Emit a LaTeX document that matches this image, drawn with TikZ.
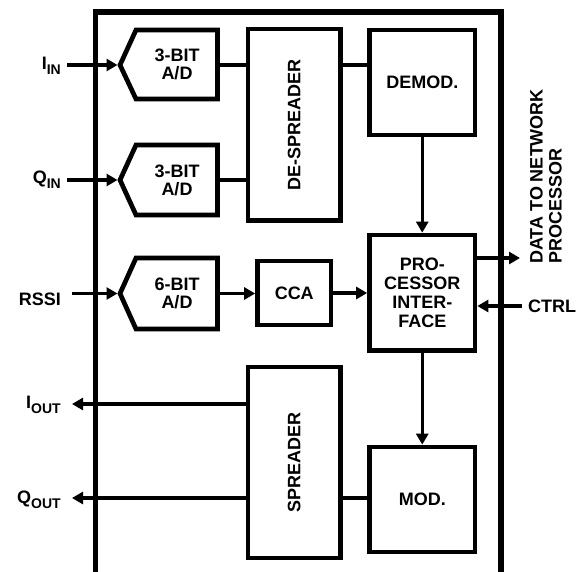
\documentclass[tikz,border=0pt]{standalone}
\usepackage{fontspec}
\setmainfont{Liberation Sans}
\usetikzlibrary{arrows.meta}
\tikzset{
  boxline/.style={line width=4.7bp, line join=miter},
  blk/.style={draw, boxline, rectangle, inner sep=0pt, align=center, font=\lbl},
  conn/.style={line width=3.5bp},
  arr/.style={conn, -{Triangle[length=11bp,width=12bp]}},
  lab/.style={inner sep=0pt, font=\lbl},
}
\newcommand{\lbl}{\fontsize{18bp}{19bp}\selectfont\bfseries}
\newcommand{\subt}[1]{\raisebox{-5bp}{\fontsize{14bp}{14bp}\selectfont #1}}
\begin{document}
\begin{tikzpicture}[x=1bp,y=-1bp]
\useasboundingbox (0,0) rectangle (581,572);
% outer frame
\draw[line width=5.5bp, line join=miter] (95.5,572) -- (95.5,12) -- (501,12) -- (501,572);
% ADC shapes
\draw[boxline] (120,65) -- (136,30) -- (217.5,30) -- (217.5,99) -- (136,99) -- cycle;
\draw[boxline] (120,180) -- (136,145) -- (217.5,145) -- (217.5,215) -- (136,215) -- cycle;
\draw[boxline] (120,293.5) -- (136,258) -- (217.5,258) -- (217.5,329) -- (136,329) -- cycle;
\coordinate (a1w) at (117.5,65);   \coordinate (a1e) at (219.8,65);
\coordinate (a2w) at (117.5,180);  \coordinate (a2e) at (219.8,180);
\coordinate (a3w) at (117.5,293.5); \coordinate (a3e) at (219.8,293.5);
\node[lab, align=center, font=\fontsize{18bp}{18bp}\selectfont\bfseries] (adc1) at (177,64.5) {3-BIT\\A/D};
\node[lab, align=center, font=\fontsize{18bp}{18bp}\selectfont\bfseries] (adc2) at (177,180) {3-BIT\\A/D};
\node[lab, align=center, font=\fontsize{18bp}{18bp}\selectfont\bfseries] (adc3) at (177,293.5) {6-BIT\\A/D};
% blocks
\node[blk, minimum width=92.5bp, minimum height=191.5bp] (desp) at (294.25,124.75) {\rotatebox{90}{DE-SPREADER}};
\node[blk, minimum width=105.5bp, minimum height=105bp] (demod) at (422.25,82.5) {DEMOD.};
\node[blk, minimum width=105.5bp, minimum height=115.5bp] (proc) at (422.25,292.75) {PRO-\\CESSOR\\INTER-\\FACE};
\node[blk, minimum width=73.5bp, minimum height=64bp] (cca) at (294.25,293) {CCA};
\node[blk, minimum width=92.5bp, minimum height=191bp] (spr) at (294.25,462.5) {\rotatebox{90}{SPREADER}};
\node[blk, minimum width=105.5bp, minimum height=105bp] (mod) at (422.25,499.5) {MOD.};
% external labels
\node[lab, anchor=base east] (iin) at (61,70) {I\subt{IN}};
\node[lab, anchor=base east] (qin) at (61,183) {Q\subt{IN}};
\node[lab, anchor=base east] (rssi) at (61,305) {RSSI};
\node[lab, anchor=base east] (iout) at (61,408.5) {I\subt{OUT}};
\node[lab, anchor=base east] (qout) at (61,503) {Q\subt{OUT}};
\node[lab, anchor=base west] (ctrl) at (528,312) {CTRL};
\node[lab, rotate=90, align=left] (data) at (546,176.5) {DATA TO NETWORK\\PROCESSOR};
% connector end points
\coordinate (iinS) at (67,65);
\coordinate (qinS) at (67,180);
\coordinate (rssiS) at (72,293.5);
\coordinate (ioutE) at (72,404);
\coordinate (qoutE) at (72,498);
\coordinate (dataE) at (520,258);
\coordinate (ctrlS) at (522,306);
% connectors
\draw[arr] (iinS) -- (a1w);
\draw[arr] (qinS) -- (a2w);
\draw[arr] (rssiS) -- (a3w);
\draw[conn] (a1e) -- (a1e -| desp.west);
\draw[conn] (a2e) -- (a2e -| desp.west);
\draw[arr] (a3e) -- (a3e -| cca.west);
\draw[conn] (desp.east |- a1e) -- (demod.west |- a1e);
\draw[arr] (cca.east) -- (cca.east -| proc.west);
\draw[arr] (demod.south) -- (proc.north);
\draw[arr] (proc.south) -- (mod.north);
\draw[arr] (dataE -| proc.east) -- (dataE);
\draw[arr] (ctrlS) -- (ctrlS -| proc.east);
\draw[arr] (ioutE -| spr.west) -- (ioutE);
\draw[arr] (qoutE -| spr.west) -- (qoutE);
\draw[conn] (spr.east |- qoutE) -- (mod.west |- qoutE);
\end{tikzpicture}
\end{document}
